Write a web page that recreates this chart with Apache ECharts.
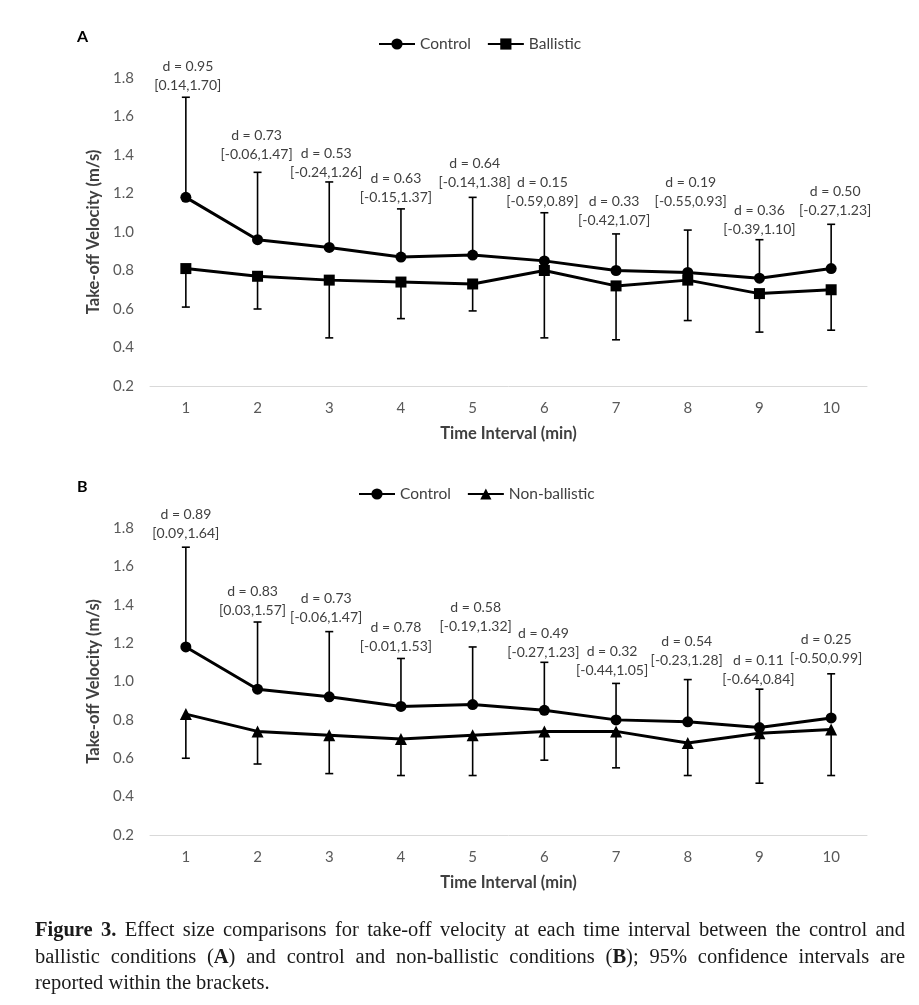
<!DOCTYPE html>
<html><head><meta charset="utf-8">
<script src="https://cdn.jsdelivr.net/npm/echarts@6/dist/echarts.min.js"></script>
<style>
html,body{margin:0;padding:0;background:#fff;}
#chart{position:absolute;left:0;top:0;width:919px;height:1005px;}
#caption{position:absolute;left:35px;top:916px;width:870px;font-family:"Liberation Serif",serif;font-size:20.5px;line-height:26.5px;color:#1a1a1a;}
#caption .j{display:block;text-align:justify;text-align-last:justify;white-space:nowrap;}
#caption .l{display:block;}
</style></head><body>
<div id="chart"></div>
<div id="caption">
<span class="j"><b>Figure 3.</b> Effect size comparisons for take-off velocity at each time interval between the control and</span>
<span class="j">ballistic conditions (<b>A</b>) and control and non-ballistic conditions (<b>B</b>); 95% confidence intervals are</span>
<span class="l">reported within the brackets.</span>
</div>
<script>
// ---- data ----
const categories = ['1','2','3','4','5','6','7','8','9','10'];
const controlMean = [1.18,0.96,0.92,0.87,0.88,0.85,0.80,0.79,0.76,0.81];
const controlUpper = [1.70,1.31,1.26,1.12,1.18,1.10,0.99,1.01,0.96,1.04];
const ballisticMean = [0.81,0.77,0.75,0.74,0.73,0.80,0.72,0.75,0.68,0.70];
const ballisticLower = [0.61,0.60,0.45,0.55,0.59,0.45,0.44,0.54,0.48,0.49];
const nonBallisticMean = [0.83,0.74,0.72,0.70,0.72,0.74,0.74,0.68,0.73,0.75];
const nonBallisticLower = [0.60,0.57,0.52,0.51,0.51,0.59,0.55,0.51,0.47,0.51];
const effectA = [0.95,0.73,0.53,0.63,0.64,0.15,0.33,0.19,0.36,0.50];
const ciLowA = [0.14,-0.06,-0.24,-0.15,-0.14,-0.59,-0.42,-0.55,-0.39,-0.27];
const ciHighA = [1.70,1.47,1.26,1.37,1.38,0.89,1.07,0.93,1.10,1.23];
const effectB = [0.89,0.83,0.73,0.78,0.58,0.49,0.32,0.54,0.11,0.25];
const ciLowB = [0.09,0.03,-0.06,-0.01,-0.19,-0.27,-0.44,-0.23,-0.64,-0.50];
const ciHighB = [1.64,1.57,1.47,1.53,1.32,1.23,1.05,1.28,0.84,0.99];
const yMin = 0.2, yMax = 1.8, yStep = 0.2;

// ---- layout (label offsets in px relative to the error-bar top) ----
const labelGapA = [12,18,9,11,15,11,13,29,10,14];
const labelDxA = [2,-1,-3,-5,2,-2,-2,3,0,4];
const labelGapB = [14,12,14,12,20,10,13,19,10,15];
const labelDxB = [0,-5,-3,-5,3,-1,-4,-1,-1,-5];

const FONT = 'Lato';
const fmt = v => v.toFixed(2);

function errorSeries(idx, mean, bound) {
  return {
    type: 'custom', xAxisIndex: idx, yAxisIndex: idx, silent: true, z: 2,
    data: categories.map((c, i) => [i, mean[i], bound[i]]),
    encode: { x: 0, y: [1, 2] },
    renderItem: (params, api) => {
      const i = api.value(0);
      const p0 = api.coord([i, api.value(1)]);
      const p1 = api.coord([i, api.value(2)]);
      const cap = 4;
      const st = { stroke: '#000', lineWidth: 1.6 };
      return { type: 'group', children: [
        { type: 'line', shape: { x1: p0[0], y1: p0[1], x2: p1[0], y2: p1[1] }, style: st },
        { type: 'line', shape: { x1: p1[0] - cap, y1: p1[1], x2: p1[0] + cap, y2: p1[1] }, style: st }
      ]};
    }
  };
}

function labelSeries(idx, upper, eff, lo, hi, gaps, dxs) {
  return {
    type: 'custom', xAxisIndex: idx, yAxisIndex: idx, silent: true, z: 5, clip: false,
    data: categories.map((c, i) => [i, upper[i]]),
    encode: { x: 0, y: 1 },
    renderItem: (params, api) => {
      const i = params.dataIndex;
      const p = api.coord([api.value(0), api.value(1)]);
      return {
        type: 'text', x: p[0] + dxs[i], y: p[1] - gaps[i] + 9.5,
        style: {
          text: 'd = ' + fmt(eff[i]) + '\n[' + fmt(lo[i]) + ',' + fmt(hi[i]) + ']',
          align: 'center', verticalAlign: 'bottom',
          fontSize: 14, fontFamily: FONT, lineHeight: 19, fill: '#404040'
        }
      };
    }
  };
}

function lineSeries(idx, name, data, symbol, size) {
  return {
    name, type: 'line', xAxisIndex: idx, yAxisIndex: idx, data,
    symbol, symbolSize: size, z: 3,
    lineStyle: { color: '#000', width: 3 }, itemStyle: { color: '#000' }
  };
}

const titleStyle = { fontWeight: 'bold', fontSize: 16.5, color: '#404040', fontFamily: FONT };
function xAxis(idx) {
  return {
    gridIndex: idx, type: 'category', data: categories, boundaryGap: true,
    axisLine: { lineStyle: { color: '#d9d9d9', width: 1 } },
    axisTick: { show: false },
    axisLabel: { color: '#595959', fontSize: 15, fontFamily: FONT, margin: 15 },
    name: 'Time Interval (min)', nameLocation: 'middle', nameGap: 39,
    nameTextStyle: titleStyle
  };
}
function yAxis(idx) {
  return {
    gridIndex: idx, type: 'value', min: yMin, max: yMax, interval: yStep,
    axisLine: { show: false }, axisTick: { show: false }, splitLine: { show: false },
    axisLabel: { formatter: v => v.toFixed(1), color: '#595959', fontSize: 15, fontFamily: FONT, margin: 16 },
    name: 'Take-off Velocity (m/s)', nameLocation: 'middle', nameGap: 44,
    nameTextStyle: titleStyle
  };
}
const legendText = { color: '#404040', fontSize: 15.5, fontFamily: FONT };

const chart = echarts.init(document.getElementById('chart'), null, { renderer: 'canvas' });
chart.setOption({
  animation: false,
  backgroundColor: '#fff',
  title: [
    { text: 'A', left: 72, top: 24, textStyle: { fontSize: 16, fontWeight: 'bold', color: '#000', fontFamily: FONT } },
    { text: 'B', left: 72, top: 474, textStyle: { fontSize: 16, fontWeight: 'bold', color: '#000', fontFamily: FONT } }
  ],
  legend: [
    { data: ['Control', 'Ballistic'], left: 373, top: 31, itemWidth: 36, itemHeight: 14, itemGap: 16, textStyle: legendText },
    { data: ['Control', 'Non-ballistic'], left: 353, top: 481, itemWidth: 36, itemHeight: 14, itemGap: 16, textStyle: legendText }
  ],
  grid: [
    { left: 150, right: 52, top: 78, height: 308 },
    { left: 150, right: 52, top: 528, height: 307 }
  ],
  xAxis: [xAxis(0), xAxis(1)],
  yAxis: [yAxis(0), yAxis(1)],
  series: [
    errorSeries(0, controlMean, controlUpper),
    errorSeries(0, ballisticMean, ballisticLower),
    lineSeries(0, 'Control', controlMean, 'circle', 11),
    lineSeries(0, 'Ballistic', ballisticMean, 'rect', 11),
    labelSeries(0, controlUpper, effectA, ciLowA, ciHighA, labelGapA, labelDxA),
    errorSeries(1, controlMean, controlUpper),
    errorSeries(1, nonBallisticMean, nonBallisticLower),
    lineSeries(1, 'Control', controlMean, 'circle', 11),
    lineSeries(1, 'Non-ballistic', nonBallisticMean, 'triangle', 12),
    labelSeries(1, controlUpper, effectB, ciLowB, ciHighB, labelGapB, labelDxB)
  ]
});
</script>
</body></html>
